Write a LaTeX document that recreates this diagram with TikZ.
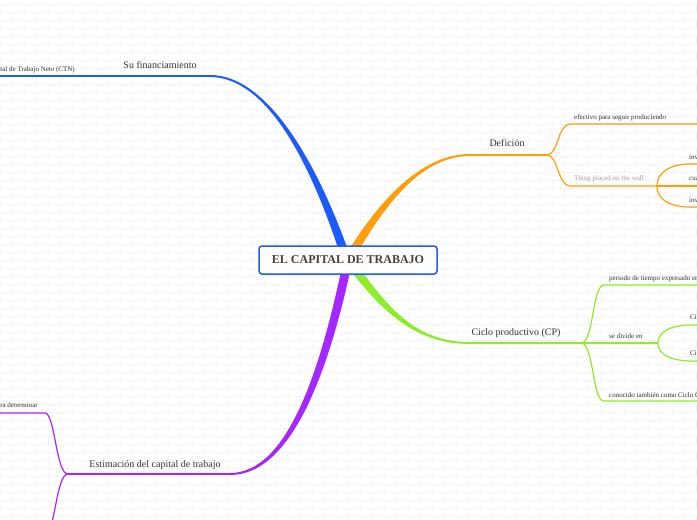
\documentclass[tikz,border=0pt]{standalone}
\usepackage{fontspec}
\setmainfont{Liberation Serif}
\usetikzlibrary{calc}
\definecolor{cblue}{HTML}{1D5BFF}
\definecolor{corange}{HTML}{FF9D0A}
\definecolor{cgreen}{HTML}{8CEE2A}
\definecolor{cpurple}{HTML}{A526FF}
\definecolor{ctext}{HTML}{333333}
\definecolor{ccenter}{HTML}{4A4034}
\definecolor{cbrick}{HTML}{F4F4F4}
\begin{document}
\begin{tikzpicture}[x=1pt,y=-1pt,
  mainlbl/.style={font=\fontsize{10}{12}\selectfont, text=ctext, inner sep=0pt, anchor=base},
  sublbl/.style={font=\fontsize{7}{8}\selectfont, text=ctext, inner sep=0pt, anchor=base west},
  trunk/.style={line width=2pt},
  twig/.style={line width=1.2pt},
  brick/.style={draw=cbrick, line width=0.5pt}
]
\useasboundingbox (0,0) rectangle (697,520);
\clip (0,0) rectangle (697,520);
\fill[white] (0,0) rectangle (697,520);
% faint brick background
\foreach \r in {0,...,64}{
  \pgfmathsetmacro\off{mod(\r,2)*12}
  \draw[brick] (0,\r*8+4) -- (697,\r*8+4);
  \draw[brick] \foreach \c in {0,...,29}{ (\c*24+\off,\r*8+4) -- ++(0,8) };
}

% coordinates
\coordinate (bE) at (210,76);  \coordinate (bL) at (-5,76);
\coordinate (oE) at (470,155); \coordinate (oF) at (547,155);
\coordinate (gE) at (470,343); \coordinate (gF) at (581,343);
\coordinate (pE) at (230,474); \coordinate (pF) at (68,474);

% tapered main branches
\fill[cblue] (210,75) .. controls (268,75) and (318,164) .. (350.3,256.6) -- (341.7,259.4) .. controls (312,166) and (268,77) .. (210,77) -- cycle;
\fill[corange] (470,156) .. controls (420,156) and (383,207) .. (351.9,262.3) -- (344.1,257.7) .. controls (377,203) and (420,154) .. (470,154) -- cycle;
\fill[cgreen] (470,342) .. controls (415,342) and (388,308) .. (351.6,257.3) -- (344.4,262.7) .. controls (382,312) and (415,344) .. (470,344) -- cycle;
\fill[cpurple] (230,475) .. controls (292,475) and (329,371) .. (352.4,260.9) -- (343.6,259.1) .. controls (321,369) and (288,473) .. (230,473) -- cycle;

% horizontal trunks
\draw[trunk, cblue] (bL) -- (bE);
\draw[trunk, corange] (oE) -- (oF);
\draw[trunk, cgreen] (gE) -- (gF);
\draw[trunk, cpurple] (pF) -- (pE);

% orange children
\coordinate (o1) at (570,124); \coordinate (o1e) at (700,124);
\coordinate (o2) at (570,186); \coordinate (oS) at (657,186);
\coordinate (o21) at (690,164); \coordinate (o21e) at (700,164);
\coordinate (o22e) at (700,186);
\coordinate (o23) at (690,207); \coordinate (o23e) at (700,207);
\draw[twig, corange] (oF) .. controls +(11,0) and +(-12,0) .. (o1) -- (o1e);
\draw[twig, corange] (oF) .. controls +(11,0) and +(-12,0) .. (o2) -- (oS);
\draw[twig, corange] (oS) .. controls +(0,-15) and +(-18,0) .. (o21) -- (o21e);
\draw[twig, corange] (oS) -- (o22e);
\draw[twig, corange] (oS) .. controls +(0,15) and +(-18,0) .. (o23) -- (o23e);

% green children
\coordinate (g1) at (604,285); \coordinate (g1e) at (700,285);
\coordinate (gS) at (658,343);
\coordinate (g3) at (604,401); \coordinate (g3e) at (700,401);
\coordinate (g21) at (692,325); \coordinate (g21e) at (700,325);
\coordinate (g22) at (692,361); \coordinate (g22e) at (700,361);
\draw[twig, cgreen] (gF) .. controls +(13,0) and +(-12,0) .. (g1) -- (g1e);
\draw[twig, cgreen] (gF) -- (gS);
\draw[twig, cgreen] (gF) .. controls +(13,0) and +(-12,0) .. (g3) -- (g3e);
\draw[twig, cgreen] (gS) .. controls +(0,-13) and +(-18,0) .. (g21) -- (g21e);
\draw[twig, cgreen] (gS) .. controls +(0,13) and +(-18,0) .. (g22) -- (g22e);

% purple children
\coordinate (p1) at (45,413); \coordinate (p1e) at (-5,413);
\coordinate (p2) at (45,535); \coordinate (p2e) at (-5,535);
\draw[twig, cpurple] (pF) .. controls +(-12,0) and +(10,0) .. (p1) -- (p1e);
\draw[twig, cpurple] (pF) .. controls +(-12,0) and +(10,0) .. (p2) -- (p2e);

% central node
\node[draw=cblue, line width=1.5pt, fill=white, rounded corners=3pt,
      minimum width=178pt, minimum height=28pt, inner sep=0pt,
      font=\bfseries\fontsize{12}{14}\selectfont, text=ccenter] (center) at (348,260) {EL CAPITAL DE TRABAJO};

% main labels
\node[mainlbl] (lfin) at (160,68.5) {Su financiamiento};
\node[mainlbl] (ldef) at (507,146.5) {Defición};
\node[mainlbl] (lcp) at (516,335) {Ciclo productivo (CP)};
\node[mainlbl] (lest) at (155,467) {Estimación del capital de trabajo};

% sub labels
\node[sublbl, anchor=base east] (lctn) at (75,71) {ital de Trabajo Neto (CTN)};
\node[sublbl] (lef) at (574,119.5) {efectivo para seguir produciendo};
\node[sublbl, text=black!38] (lthing) at (574,180.5) {Thing placed on the wall};
\node[sublbl] (linv1) at (689,159) {inv};
\node[sublbl] (lcua) at (689,180.5) {cua};
\node[sublbl] (linv2) at (689,202) {inv};
\node[sublbl] (lper) at (609,280.5) {periodo de tiempo expresado en};
\node[sublbl] (ldiv) at (609,338.5) {se divide en};
\node[sublbl] (lci1) at (690,319.5) {Ci};
\node[sublbl] (lci2) at (690,355.5) {Ci};
\node[sublbl] (lcon) at (609,397) {conocido también como Ciclo C};
\node[sublbl, anchor=base east] (ldet) at (38,407.5) {ra determinar};
\end{tikzpicture}
\end{document}
